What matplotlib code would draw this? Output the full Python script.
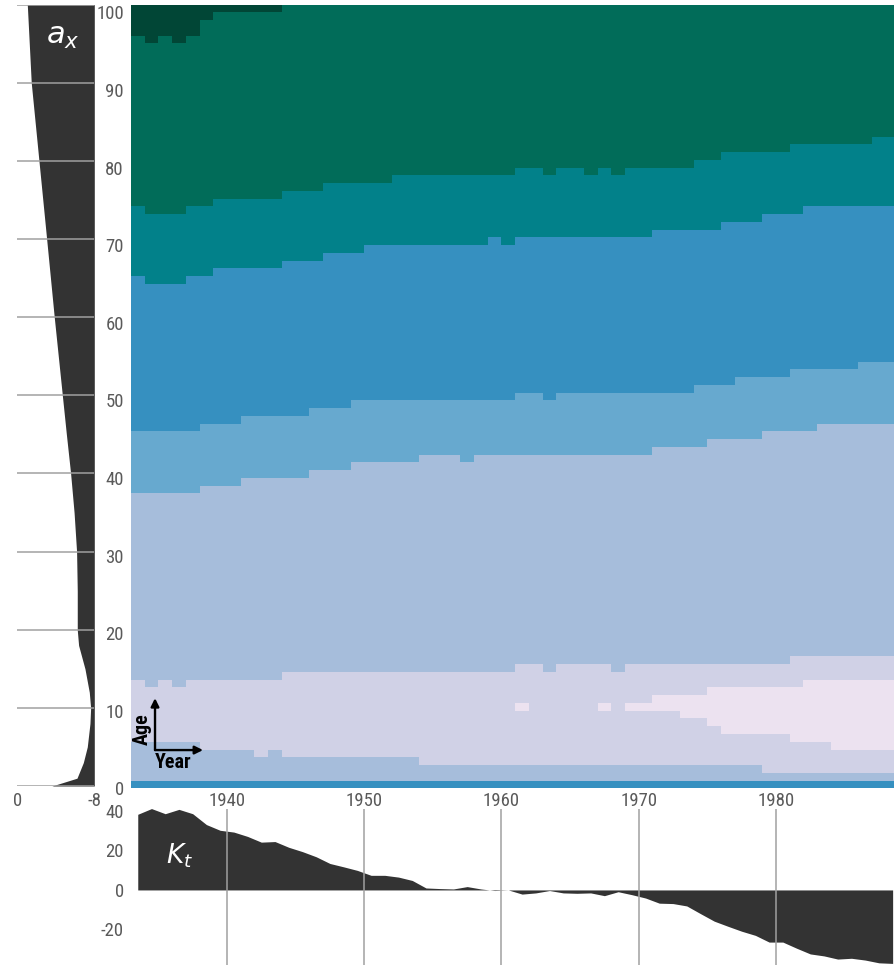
"""
Lee-Carter style view: age profile a_x, binned log mortality by year/age, and k_t
"""

import numpy as np
import matplotlib
matplotlib.use('Agg')
import matplotlib.pyplot as plt
from matplotlib import font_manager
from matplotlib.colors import ListedColormap

# pick a narrow face if one is around, otherwise Roboto
_fonts = font_manager.fontManager.ttflist
_names = {f.name for f in _fonts}
FONT_STRETCH = 'normal'
FONT_NAME = 'Roboto'
for cand in ['Roboto Condensed', 'Liberation Sans Narrow', 'Open Sans Condensed']:
    if cand in _names:
        FONT_NAME = cand
        break
else:
    if any(f.name == 'DejaVu Sans' and 'ondensed' in f.fname for f in _fonts):
        FONT_NAME = 'DejaVu Sans'
        FONT_STRETCH = 'condensed'

plt.rcParams['font.family'] = [FONT_NAME, 'DejaVu Sans']
plt.rcParams['font.stretch'] = FONT_STRETCH
plt.rcParams['axes.unicode_minus'] = False
plt.rcParams['mathtext.fontset'] = 'dejavusans'

# ---- data ----
FIRST_YEAR = 1933

# age at which each colour class starts, one value per year (1933..1988)
CLASS2_START = [6, 6, 6, 6, 6, 5, 5, 5, 5, 4, 5, 4, 4, 4, 4, 4, 4, 4, 4, 4,
                4, 3, 3, 3, 3, 3, 3, 3, 3, 3, 3, 3, 3, 3, 3, 3, 3, 3, 3, 3,
                3, 3, 3, 3, 3, 3, 2, 2, 2, 2, 2, 2, 2, 2, 2, 2]
UPPER3_START = [14, 13, 14, 13, 14, 14, 14, 14, 14, 14, 14, 15, 15, 15, 15, 15, 15, 15, 15, 15,
                15, 15, 15, 15, 15, 15, 15, 15, 16, 16, 15, 16, 16, 16, 16, 15, 16, 16, 16, 16,
                16, 16, 16, 16, 16, 16, 16, 16, 17, 17, 17, 17, 17, 17, 17, 17]
CLASS4_START = [38, 38, 38, 38, 38, 39, 39, 39, 40, 40, 40, 40, 40, 41, 41, 41, 42, 42, 42, 42,
                42, 43, 43, 43, 42, 43, 43, 43, 43, 43, 43, 43, 43, 43, 43, 43, 43, 43, 44, 44,
                44, 44, 45, 45, 45, 45, 46, 46, 46, 46, 47, 47, 47, 47, 47, 47]
CLASS5_START = [46, 46, 46, 46, 46, 47, 47, 47, 48, 48, 48, 48, 48, 49, 49, 49, 50, 50, 50, 50,
                50, 50, 50, 50, 50, 50, 50, 50, 51, 51, 50, 51, 51, 51, 51, 51, 51, 51, 51, 51,
                51, 52, 52, 52, 53, 53, 53, 53, 54, 54, 54, 54, 54, 55, 55, 55]
CLASS6_START = [66, 65, 65, 65, 66, 66, 67, 67, 67, 67, 67, 68, 68, 68, 69, 69, 69, 70, 70, 70,
                70, 70, 70, 70, 70, 70, 71, 70, 71, 71, 71, 71, 71, 71, 71, 71, 71, 71, 72, 72,
                72, 72, 72, 73, 73, 73, 74, 74, 74, 75, 75, 75, 75, 75, 75, 75]
CLASS7_START = [75, 74, 74, 74, 75, 75, 76, 76, 76, 76, 76, 77, 77, 77, 78, 78, 78, 78, 78, 79,
                79, 79, 79, 79, 79, 79, 79, 79, 80, 80, 79, 80, 80, 79, 80, 79, 80, 80, 80, 80,
                80, 81, 81, 82, 82, 82, 82, 82, 83, 83, 83, 83, 83, 83, 84, 84]
CLASS8_START = [97, 96, 97, 96, 97, 99, 100, 100, 100, 100, 100, 101, 101, 101, 101, 101, 101, 101, 101, 101,
                101, 101, 101, 101, 101, 101, 101, 101, 101, 101, 101, 101, 101, 101, 101, 101, 101, 101, 101, 101,
                101, 101, 101, 101, 101, 101, 101, 101, 101, 101, 101, 101, 101, 101, 101, 101]
# lightest class: ages [from, to) per year, 0/0 where absent
LIGHT_FROM = [0, 0, 0, 0, 0, 0, 0, 0, 0, 0, 0, 0, 0, 0, 0, 0, 0, 0, 0, 0,
              0, 0, 0, 0, 0, 0, 0, 0, 10, 0, 0, 0, 0, 0, 10, 0, 10, 10, 10, 10,
              9, 9, 8, 7, 7, 7, 7, 7, 6, 6, 6, 5, 5, 5, 5, 5]
LIGHT_TO = [0, 0, 0, 0, 0, 0, 0, 0, 0, 0, 0, 0, 0, 0, 0, 0, 0, 0, 0, 0,
            0, 0, 0, 0, 0, 0, 0, 0, 11, 0, 0, 0, 0, 0, 11, 0, 11, 11, 12, 12,
            12, 12, 13, 13, 13, 13, 13, 13, 13, 14, 14, 14, 14, 14, 14, 14]
INFANT_CLASS = 5

KT = [38.3, 41.2, 38.6, 40.8, 38.6, 33.1, 30.2, 29.3, 27.1, 24.2,
      24.5, 21.6, 19.4, 16.8, 13.4, 11.7, 9.9, 7.4, 7.4, 6.5,
      4.8, 1.0, 0.7, 0.5, 1.7, 0.5, -0.3, 0.0, -2.1, -1.5,
      -0.3, -1.5, -1.7, -1.5, -2.9, -0.9, -2.4, -4.1, -6.7, -6.9,
      -8.1, -12.0, -15.8, -18.4, -20.9, -23.0, -26.4, -26.4, -29.5, -32.4,
      -33.4, -35.0, -34.6, -35.5, -36.9, -37.2]

AX_AGES = [0, 1, 3, 5, 8, 10, 12, 15, 18, 20, 25, 30, 35, 40, 45, 50, 60, 70, 80, 90, 100]
AX_VALUES = [-3.6, -6.2, -6.86, -7.27, -7.55, -7.62, -7.48, -7.03, -6.37, -6.23,
             -6.23, -6.16, -5.9, -5.54, -5.1, -4.68, -3.84, -3.05, -2.25, -1.45, -1.04]

YEAR_TICKS = [1940, 1950, 1960, 1970, 1980]
AGE_TICKS = list(range(0, 101, 10))
KT_TICKS = [40, 20, 0, -20]

PALETTE = ['#fff7fb', '#ece2f0', '#d0d1e6', '#a6bddb', '#67a9cf',
           '#3690c0', '#02818a', '#016c59', '#014636']
DARK = '#333333'
GRID = '#a0a0a0'
TICK_COLOR = '#5a5a5a'
TICK_SIZE = 13.5 if FONT_NAME != 'Roboto' else 12


def build_classes():
    n_years = len(KT)
    grid = np.zeros((101, n_years), dtype=int)
    for i in range(n_years):
        for age in range(101):
            if age == 0:
                c = INFANT_CLASS
            elif age < CLASS2_START[i]:
                c = 3
            elif age < UPPER3_START[i]:
                c = 1 if LIGHT_FROM[i] <= age < LIGHT_TO[i] else 2
            elif age < CLASS4_START[i]:
                c = 3
            elif age < CLASS5_START[i]:
                c = 4
            elif age < CLASS6_START[i]:
                c = 5
            elif age < CLASS7_START[i]:
                c = 6
            elif age < CLASS8_START[i]:
                c = 7
            else:
                c = 8
            grid[age, i] = c
    return grid


def main():
    years = np.arange(FIRST_YEAR, FIRST_YEAR + len(KT))
    classes = build_classes()

    W, H = 894, 965
    fig = plt.figure(figsize=(W / 100, H / 100), dpi=100)

    heat_left, heat_bottom, heat_top = 130.9, 788.3, 4.7
    x_right = FIRST_YEAR + (W - heat_left) / 13.725

    # ---- heatmap ----
    ax_h = fig.add_axes([heat_left / W, 1 - heat_bottom / H,
                         (W - heat_left) / W, (heat_bottom - heat_top) / H])
    year_edges = np.append(years, years[-1] + 1)
    age_edges = np.arange(0, 102)
    ax_h.pcolormesh(year_edges, age_edges, classes, cmap=ListedColormap(PALETTE),
                    vmin=-0.5, vmax=8.5, shading='flat', antialiased=False,
                    edgecolors='none')
    ax_h.set_xlim(FIRST_YEAR, x_right)
    ax_h.set_ylim(0, 101)
    ax_h.set_yticks(AGE_TICKS)
    ax_h.set_xticks(YEAR_TICKS)
    ax_h.tick_params(length=0, labelsize=TICK_SIZE, colors=TICK_COLOR)
    ax_h.tick_params(axis='y', pad=5)
    ax_h.tick_params(axis='x', pad=3)
    for s in ax_h.spines.values():
        s.set_visible(False)

    # age / year key
    arrow = dict(arrowstyle='-|>', lw=1.7, color='black', shrinkA=0, shrinkB=0,
                 mutation_scale=12)
    ax_h.annotate('', xy=(0.0316, 0.115), xytext=(0.0316, 0.0488),
                  xycoords='axes fraction', arrowprops=arrow)
    ax_h.annotate('', xy=(0.0945, 0.0488), xytext=(0.0316, 0.0488),
                  xycoords='axes fraction', arrowprops=arrow)
    ax_h.text(0.0152, 0.0757, 'Age', rotation=90, ha='center', va='center',
              fontsize=14.5, fontweight='bold', transform=ax_h.transAxes)
    ax_h.text(0.0555, 0.0335, 'Year', ha='center', va='center',
              fontsize=14.5, fontweight='bold', transform=ax_h.transAxes)

    # ---- a_x panel ----
    ax_a = fig.add_axes([17.3 / W, 1 - 786 / H, 77 / W, (786 - 4.7) / H])
    ax_a.fill_betweenx(AX_AGES, AX_VALUES, -8, color=DARK, lw=0)
    ax_a.hlines(AGE_TICKS, 0, -8, color=GRID, lw=1.1, zorder=3)
    ax_a.set_xlim(0, -8)
    ax_a.set_ylim(0, 100)
    ax_a.set_xticks([0, -8])
    ax_a.set_xticklabels(['0', '-8'])
    ax_a.set_yticks([])
    ax_a.tick_params(length=0, labelsize=TICK_SIZE, colors=TICK_COLOR, pad=4)
    for s in ax_a.spines.values():
        s.set_visible(False)
    ax_a.text(46 / W, 1 - 44 / H, r'$a_x$', transform=fig.transFigure,
              color='white', fontsize=22, ha='left', va='baseline')

    # ---- k_t panel ----
    kt_top = 807
    ax_k = fig.add_axes([heat_left / W, 0, (W - heat_left) / W, (H - kt_top) / H])
    ax_k.fill_between(years + 0.5, KT, 0, color=DARK, lw=0)
    ax_k.vlines(YEAR_TICKS, -38, 41, color=GRID, lw=1.1, zorder=3)
    ax_k.set_xlim(FIRST_YEAR, x_right)
    ax_k.set_ylim(-38, 42)
    ax_k.set_xticks([])
    ax_k.set_yticks(KT_TICKS)
    ax_k.set_yticklabels([str(v) for v in KT_TICKS])
    ax_k.tick_params(length=0, labelsize=TICK_SIZE, colors=TICK_COLOR, pad=5)
    for s in ax_k.spines.values():
        s.set_visible(False)
    ax_k.text(166 / W, 1 - 863 / H, r'$K_t$', transform=fig.transFigure,
              color='white', fontsize=19, ha='left', va='baseline')

    fig.savefig('out.png', dpi=100)


if __name__ == "__main__":
    main()
